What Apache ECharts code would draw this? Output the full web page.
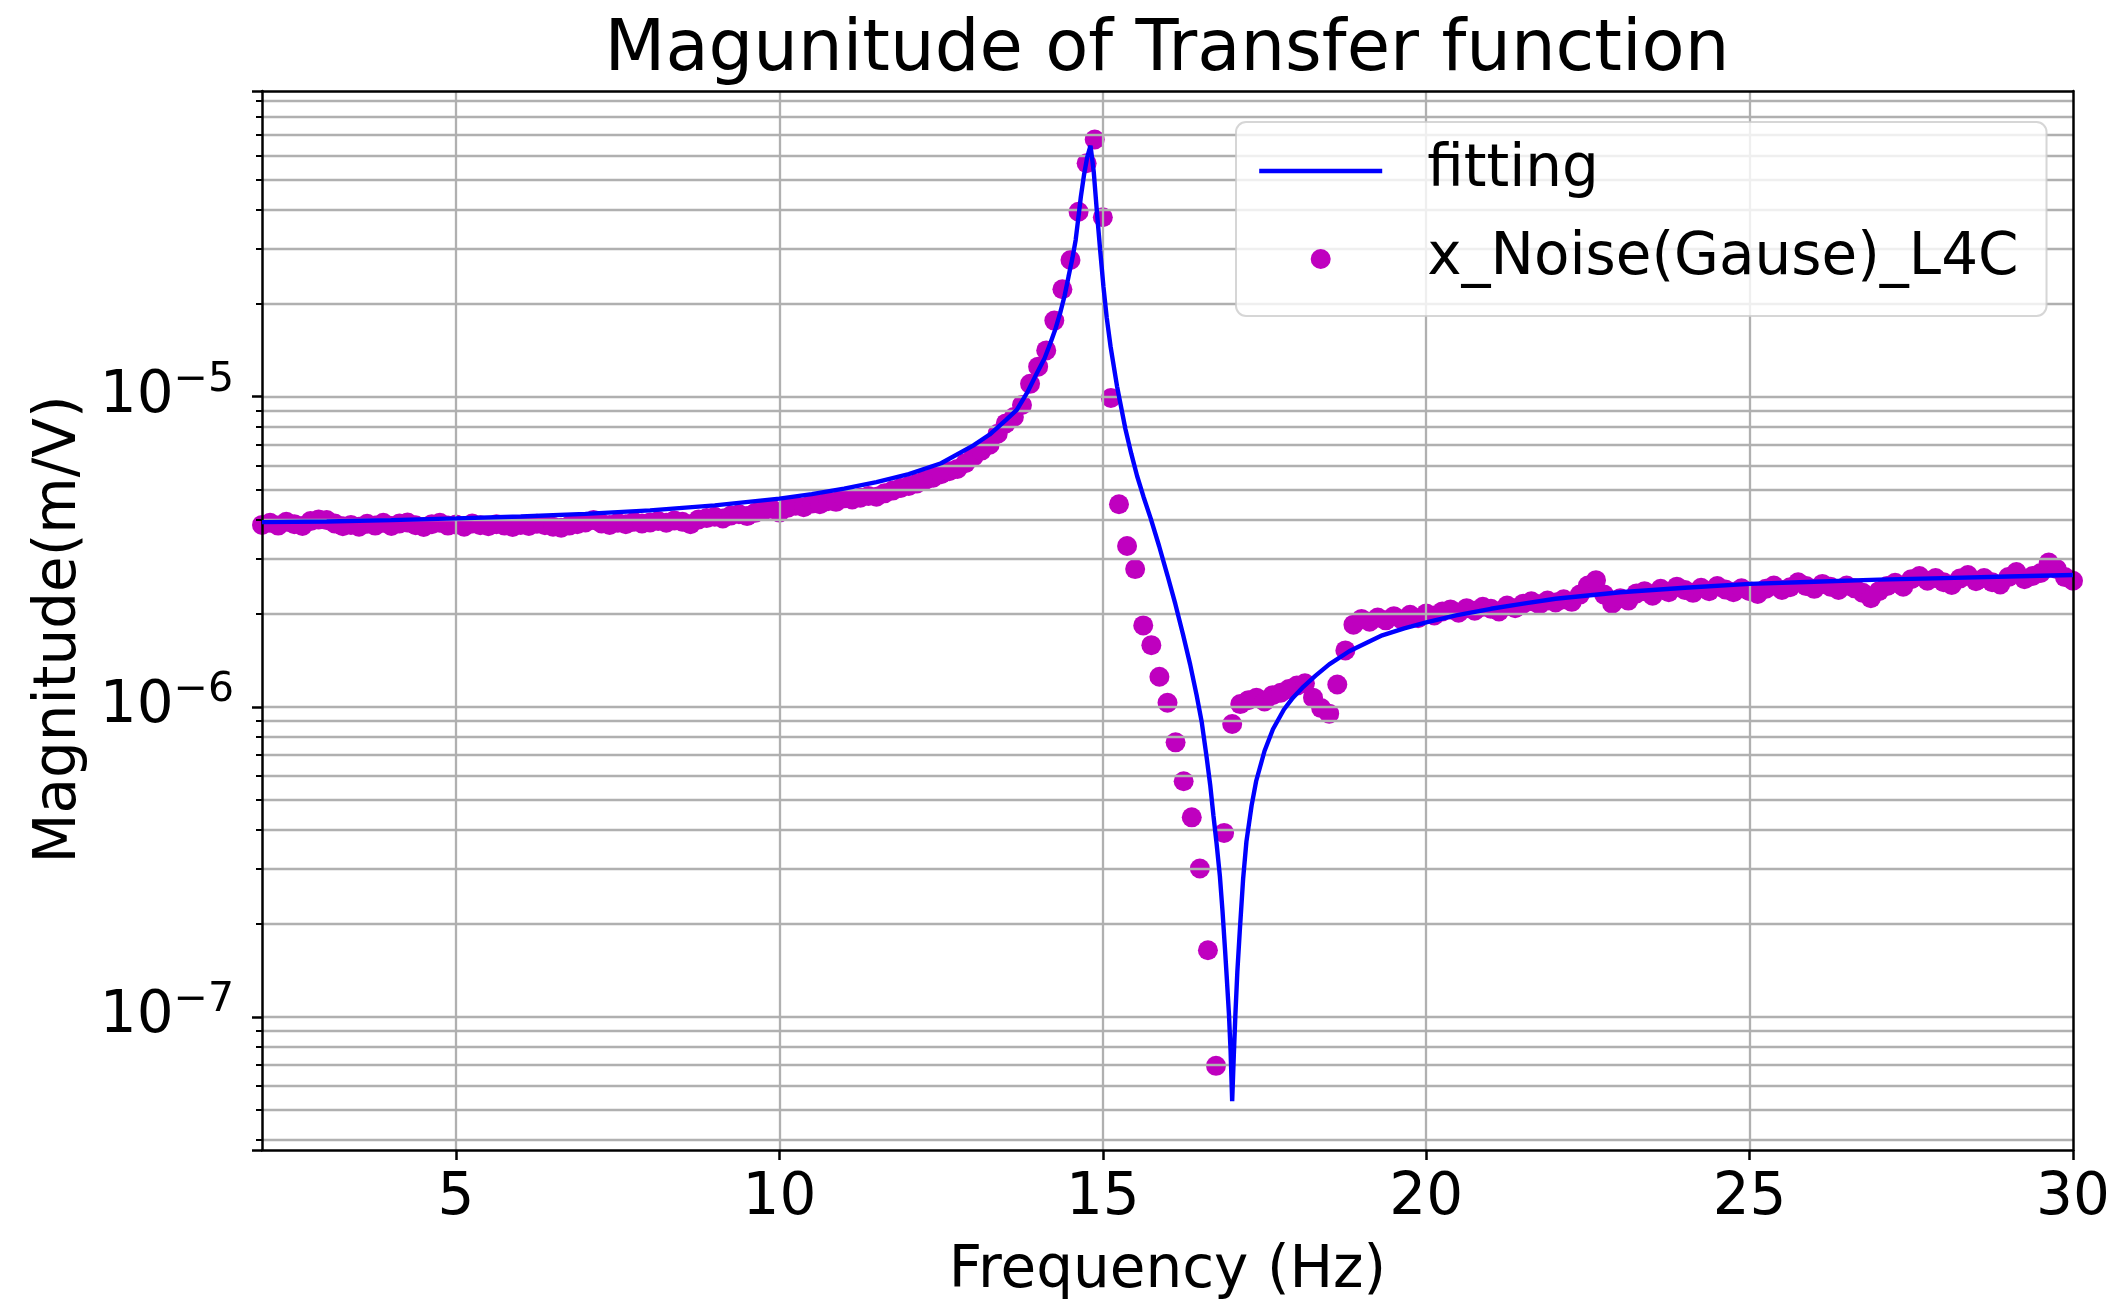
<!DOCTYPE html>
<html>
<head>
<meta charset="utf-8">
<script src="https://cdn.jsdelivr.net/npm/echarts@6/dist/echarts.min.js"></script>
<style>html,body{margin:0;padding:0;background:#fff}#c{width:2111px;height:1299px}</style>
</head>
<body>
<div id="c"></div>
<script>
// ---- data ----
const titleText = 'Magunitude of Transfer function';
const xName = 'Frequency (Hz)';
const yName = 'Magnitude(m/V)';
const seriesNames = ['fitting', 'x_Noise(Gause)_L4C'];

const dataFreq = [
  2, 2.125, 2.25, 2.375, 2.5, 2.625, 2.75, 2.875,
  3, 3.125, 3.25, 3.375, 3.5, 3.625, 3.75, 3.875,
  4, 4.125, 4.25, 4.375, 4.5, 4.625, 4.75, 4.875,
  5, 5.125, 5.25, 5.375, 5.5, 5.625, 5.75, 5.875,
  6, 6.125, 6.25, 6.375, 6.5, 6.625, 6.75, 6.875,
  7, 7.125, 7.25, 7.375, 7.5, 7.625, 7.75, 7.875,
  8, 8.125, 8.25, 8.375, 8.5, 8.625, 8.75, 8.875,
  9, 9.125, 9.25, 9.375, 9.5, 9.625, 9.75, 9.875,
  10, 10.125, 10.25, 10.375, 10.5, 10.625, 10.75, 10.875,
  11, 11.125, 11.25, 11.375, 11.5, 11.625, 11.75, 11.875,
  12, 12.125, 12.25, 12.375, 12.5, 12.625, 12.75, 12.875,
  13, 13.125, 13.25, 13.375, 13.5, 13.625, 13.75, 13.875,
  14, 14.125, 14.25, 14.375, 14.5, 14.625, 14.75, 14.875,
  15, 15.125, 15.25, 15.375, 15.5, 15.625, 15.75, 15.875,
  16, 16.125, 16.25, 16.375, 16.5, 16.625, 16.75, 16.875,
  17, 17.125, 17.25, 17.375, 17.5, 17.625, 17.75, 17.875,
  18, 18.125, 18.25, 18.375, 18.5, 18.625, 18.75, 18.875,
  19, 19.125, 19.25, 19.375, 19.5, 19.625, 19.75, 19.875,
  20, 20.125, 20.25, 20.375, 20.5, 20.625, 20.75, 20.875,
  21, 21.125, 21.25, 21.375, 21.5, 21.625, 21.75, 21.875,
  22, 22.125, 22.25, 22.375, 22.5, 22.625, 22.75, 22.875,
  23, 23.125, 23.25, 23.375, 23.5, 23.625, 23.75, 23.875,
  24, 24.125, 24.25, 24.375, 24.5, 24.625, 24.75, 24.875,
  25, 25.125, 25.25, 25.375, 25.5, 25.625, 25.75, 25.875,
  26, 26.125, 26.25, 26.375, 26.5, 26.625, 26.75, 26.875,
  27, 27.125, 27.25, 27.375, 27.5, 27.625, 27.75, 27.875,
  28, 28.125, 28.25, 28.375, 28.5, 28.625, 28.75, 28.875,
  29, 29.125, 29.25, 29.375, 29.5, 29.625, 29.75, 29.875,
  30
];

const dataMag = [
  3.86e-6, 3.92e-6, 3.84e-6, 3.95e-6, 3.88e-6, 3.83e-6, 3.97e-6, 4.02e-6,
  4.00e-6, 3.90e-6, 3.82e-6, 3.86e-6, 3.81e-6, 3.89e-6, 3.84e-6, 3.92e-6,
  3.83e-6, 3.90e-6, 3.93e-6, 3.85e-6, 3.80e-6, 3.88e-6, 3.92e-6, 3.84e-6,
  3.87e-6, 3.81e-6, 3.90e-6, 3.85e-6, 3.82e-6, 3.88e-6, 3.84e-6, 3.80e-6,
  3.86e-6, 3.83e-6, 3.89e-6, 3.85e-6, 3.81e-6, 3.78e-6, 3.84e-6, 3.88e-6,
  3.93e-6, 4.00e-6, 3.90e-6, 3.86e-6, 3.92e-6, 3.88e-6, 3.95e-6, 3.90e-6,
  3.93e-6, 3.97e-6, 3.92e-6, 3.99e-6, 3.95e-6, 3.88e-6, 4.02e-6, 4.06e-6,
  4.10e-6, 4.05e-6, 4.14e-6, 4.18e-6, 4.12e-6, 4.22e-6, 4.28e-6, 4.35e-6,
  4.23e-6, 4.38e-6, 4.45e-6, 4.40e-6, 4.52e-6, 4.50e-6, 4.60e-6, 4.58e-6,
  4.70e-6, 4.66e-6, 4.72e-6, 4.78e-6, 4.76e-6, 4.88e-6, 4.98e-6, 5.08e-6,
  5.15e-6, 5.25e-6, 5.38e-6, 5.48e-6, 5.62e-6, 5.75e-6, 5.85e-6, 6.10e-6,
  6.40e-6, 6.70e-6, 7.00e-6, 7.60e-6, 8.20e-6, 8.60e-6, 9.40e-6, 1.10e-5,
  1.25e-5, 1.41e-5, 1.76e-5, 2.22e-5, 2.76e-5, 3.95e-5, 5.66e-5, 6.75e-5,
  3.79e-5, 9.90e-6, 4.50e-6, 3.30e-6, 2.78e-6, 1.83e-6, 1.58e-6, 1.25e-6,
  1.03e-6, 7.68e-7, 5.75e-7, 4.40e-7, 3.01e-7, 1.64e-7, 6.95e-8, 3.92e-7,
  8.80e-7, 1.02e-6, 1.05e-6, 1.07e-6, 1.04e-6, 1.09e-6, 1.11e-6, 1.14e-6,
  1.17e-6, 1.19e-6, 1.07e-6, 9.90e-7, 9.50e-7, 1.18e-6, 1.52e-6, 1.84e-6,
  1.92e-6, 1.88e-6, 1.94e-6, 1.90e-6, 1.96e-6, 1.91e-6, 1.98e-6, 1.93e-6,
  2.00e-6, 1.97e-6, 2.03e-6, 2.06e-6, 2.01e-6, 2.08e-6, 2.04e-6, 2.10e-6,
  2.07e-6, 2.03e-6, 2.12e-6, 2.08e-6, 2.15e-6, 2.19e-6, 2.14e-6, 2.20e-6,
  2.17e-6, 2.22e-6, 2.18e-6, 2.30e-6, 2.46e-6, 2.56e-6, 2.30e-6, 2.15e-6,
  2.24e-6, 2.20e-6, 2.32e-6, 2.36e-6, 2.28e-6, 2.40e-6, 2.34e-6, 2.44e-6,
  2.38e-6, 2.33e-6, 2.42e-6, 2.36e-6, 2.45e-6, 2.39e-6, 2.34e-6, 2.41e-6,
  2.36e-6, 2.31e-6, 2.40e-6, 2.46e-6, 2.38e-6, 2.43e-6, 2.52e-6, 2.45e-6,
  2.40e-6, 2.49e-6, 2.44e-6, 2.38e-6, 2.46e-6, 2.41e-6, 2.33e-6, 2.24e-6,
  2.36e-6, 2.45e-6, 2.51e-6, 2.44e-6, 2.58e-6, 2.64e-6, 2.55e-6, 2.60e-6,
  2.52e-6, 2.47e-6, 2.59e-6, 2.66e-6, 2.54e-6, 2.60e-6, 2.52e-6, 2.48e-6,
  2.62e-6, 2.72e-6, 2.58e-6, 2.64e-6, 2.70e-6, 2.92e-6, 2.78e-6, 2.62e-6,
  2.55e-6
];

const fitFreq = [
  2, 3, 4, 5, 6, 7, 8, 9, 10, 10.5, 11, 11.5, 12, 12.5, 13, 13.25, 13.5, 13.67, 13.83, 13.98,
  14.1, 14.19, 14.27, 14.34, 14.41, 14.47, 14.53, 14.58, 14.62, 14.66, 14.71, 14.76, 14.81,
  14.86, 14.91, 14.96, 15.01, 15.06, 15.12, 15.22, 15.35, 15.44, 15.53, 15.63, 15.74, 15.87,
  16, 16.12, 16.24, 16.35, 16.45, 16.53, 16.6, 16.66, 16.71, 16.76, 16.81, 16.85, 16.89,
  16.92, 16.95, 16.975, 17, 17.025, 17.05, 17.08, 17.12, 17.17, 17.22, 17.3, 17.37, 17.5,
  17.63, 17.8, 17.94, 18.1, 18.29, 18.5, 18.81, 19, 19.32, 19.66, 20, 20.46, 21, 21.5, 22,
  23, 24, 25, 26, 27, 28, 29, 30
];

const fitMag = [
  3.94e-6, 3.96e-6, 4.00e-6, 4.05e-6, 4.11e-6, 4.19e-6, 4.30e-6, 4.46e-6, 4.69e-6, 4.85e-6,
  5.05e-6, 5.30e-6, 5.63e-6, 6.10e-6, 6.97e-6, 7.55e-6, 8.40e-6, 9.06e-6, 1.03e-5, 1.19e-5,
  1.33e-5, 1.49e-5, 1.66e-5, 1.86e-5, 2.12e-5, 2.44e-5, 2.80e-5, 3.20e-5, 3.75e-5, 4.41e-5,
  5.20e-5, 5.94e-5, 6.45e-5,
  5.30e-5, 3.91e-5, 2.95e-5, 2.26e-5, 1.80e-5, 1.45e-5, 1.08e-5, 7.85e-6, 6.55e-6, 5.55e-6,
  4.75e-6, 4.05e-6, 3.30e-6,
  2.65e-6, 2.15e-6, 1.71e-6, 1.37e-6, 1.09e-6, 8.90e-7, 7.00e-7, 5.60e-7, 4.46e-7, 3.60e-7,
  2.84e-7, 2.20e-7, 1.64e-7,
  1.30e-7, 1.02e-7, 7.80e-8, 5.35e-8, 7.50e-8, 1.02e-7, 1.40e-7, 1.93e-7, 2.80e-7, 3.67e-7,
  4.80e-7, 5.75e-7, 7.20e-7,
  8.46e-7, 9.80e-7, 1.07e-6, 1.16e-6, 1.26e-6, 1.37e-6, 1.51e-6, 1.58e-6, 1.70e-6, 1.79e-6,
  1.87e-6, 1.97e-6, 2.07e-6, 2.15e-6, 2.23e-6,
  2.34e-6, 2.42e-6, 2.49e-6, 2.53e-6, 2.57e-6, 2.60e-6, 2.63e-6, 2.66e-6
];

// ---- chart ----
const FONT = 'DejaVu Sans';
const GRID = '#b0b0b0';
const chart = echarts.init(document.getElementById('c'), null, { renderer: 'canvas' });

function supLabel(v) {
  const l = Math.log10(v);
  const e = Math.round(l);
  if (Math.abs(l - e) > 1e-6) return '';
  return '10{sup|' + (e < 0 ? '\u2212' : '') + Math.abs(e) + '}';
}

const option = {
  animation: false,
  backgroundColor: '#ffffff',
  textStyle: { fontFamily: FONT },
  title: {
    text: titleText,
    left: 1167, textAlign: 'center', top: 16, padding: 0,
    textStyle: { fontFamily: FONT, fontSize: 70.5, fontWeight: 'normal', color: '#000' }
  },
  legend: {
    data: [
      { name: seriesNames[0], itemStyle: { opacity: 0 }, lineStyle: { width: 4.4, color: '#0000ff' } },
      { name: seriesNames[1], icon: 'circle' }
    ],
    orient: 'vertical',
    left: 1236, top: 122,
    itemWidth: 123, itemHeight: 20, itemGap: 30,
    padding: [20, 28, 28, 21],
    backgroundColor: 'rgba(255,255,255,0.8)',
    borderColor: 'rgba(204,204,204,0.8)', borderWidth: 2, borderRadius: 10,
    textStyle: { fontFamily: FONT, fontSize: 58, color: '#000', padding: [11, 0, 0, 40] }
  },
  grid: { left: 262, right: 38, top: 91, bottom: 149, containLabel: false, outerBoundsMode: 'none' },
  xAxis: [{
    type: 'value', min: 2, max: 30, z: 1,
    name: xName, nameLocation: 'middle', nameGap: 93,
    nameTextStyle: { fontFamily: FONT, fontSize: 58, color: '#000' },
    axisLine: { show: true, lineStyle: { color: '#000', width: 2.5 } },
    axisTick: { show: true, inside: false, length: 10, lineStyle: { color: '#000', width: 2.5 } },
    axisLabel: { show: true, showMinLabel: false, margin: 20, fontFamily: FONT, fontSize: 58, color: '#000' },
    splitLine: { show: true, showMinLine: false, showMaxLine: false, lineStyle: { color: GRID, width: 2.3 } }
  }, {
    type: 'value', min: 2, max: 30, position: 'top', z: 3,
    axisLine: { show: true, lineStyle: { color: '#000', width: 2.5 } },
    axisTick: { show: false }, axisLabel: { show: false }, splitLine: { show: false }
  }],
  yAxis: [{
    type: 'log', logBase: 10, min: 3.72e-8, max: 9.68e-5, z: 1,
    name: yName, nameLocation: 'middle', nameGap: 172, nameRotate: 90,
    nameTextStyle: { fontFamily: FONT, fontSize: 58, color: '#000', padding: [0, 18, 0, 0] },
    axisLine: { show: true, lineStyle: { color: '#000', width: 2.5 } },
    axisTick: { show: true, inside: false, length: 10, lineStyle: { color: '#000', width: 2.5 } },
    minorTick: { show: true, splitNumber: 9, length: 6, lineStyle: { color: '#000', width: 2 } },
    axisLabel: {
      show: true, showMinLabel: false, showMaxLabel: false, margin: 28,
      fontFamily: FONT, fontSize: 58, color: '#000',
      formatter: supLabel,
      rich: { sup: { fontFamily: FONT, fontSize: 41, color: '#000', padding: [0, 0, 33, 0] } }
    },
    splitLine: { show: true, showMinLine: false, showMaxLine: false, lineStyle: { color: GRID, width: 2.3 } },
    minorSplitLine: { show: true, lineStyle: { color: GRID, width: 2.3 } }
  }, {
    type: 'log', logBase: 10, min: 3.72e-8, max: 9.68e-5, position: 'right', z: 3,
    axisLine: { show: true, lineStyle: { color: '#000', width: 2.5 } },
    axisTick: { show: false }, axisLabel: { show: false }, splitLine: { show: false }
  }],
  series: [{
    name: seriesNames[0], type: 'line', z: 4,
    xAxisIndex: 0, yAxisIndex: 0,
    data: fitFreq.map((f, i) => [f, fitMag[i]]),
    symbol: 'none', smooth: false,
    lineStyle: { color: '#0000ff', width: 4.4 },
    itemStyle: { color: '#0000ff' }
  }, {
    name: seriesNames[1], type: 'scatter', z: 0,
    xAxisIndex: 0, yAxisIndex: 0,
    data: dataFreq.map((f, i) => [f, dataMag[i]]),
    symbol: 'circle', symbolSize: 20,
    itemStyle: { color: '#bf00bf', opacity: 1 }
  }]
};
chart.setOption(option);
</script>
</body>
</html>
